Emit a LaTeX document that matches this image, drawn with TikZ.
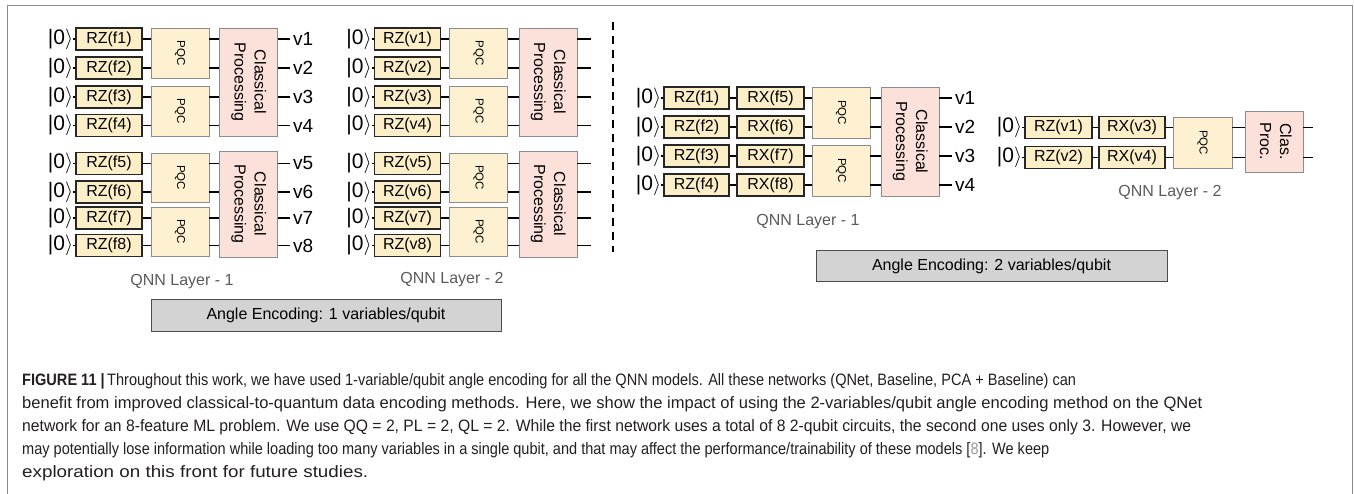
\documentclass[tikz,border=0pt]{standalone}
\usepackage{fontspec}
\setmainfont{Liberation Sans}
\usepackage{graphicx}
\definecolor{gatefill}{HTML}{FCEFC8}
\definecolor{pqcfill}{HTML}{FDF1D2}
\definecolor{clsfill}{HTML}{FBE1D9}
\definecolor{encfill}{HTML}{D3D3D3}
\definecolor{boxline}{HTML}{8C8C8C}
\definecolor{layergray}{HTML}{5A5A5A}
\definecolor{captext}{HTML}{231F20}
\definecolor{framegray}{HTML}{8A8A8A}
\tikzset{
  wire/.style={line width=1.6pt, black},
  gate/.style={draw=black!85, line width=1.3pt, fill=gatefill, minimum width=66, minimum height=22, inner sep=0pt, font=\fontsize{16}{16}\selectfont},
  pqcbox/.style={draw=boxline, line width=0.9pt, fill=pqcfill, minimum width=58, inner sep=0pt, font=\fontsize{11.5}{12}\selectfont},
  clsbox/.style={draw=boxline, line width=0.9pt, fill=clsfill, minimum width=58, inner sep=0pt, font=\fontsize{16}{20}\selectfont, align=center},
  ket/.style={anchor=east, inner sep=0pt, font=\fontsize{21}{21}\selectfont},
  vlab/.style={anchor=west, inner sep=0pt, font=\fontsize{19}{19}\selectfont},
  layerlab/.style={text=layergray, inner sep=0pt, font=\fontsize{16}{16}\selectfont},
  encbox/.style={draw=black!70, line width=1pt, fill=encfill, inner sep=0pt, font=\fontsize{16}{16}\selectfont},
  captionline/.style={anchor=base west, inner sep=0pt, text=captext, font=\fontsize{16.5}{18}\selectfont},
}
\begin{document}
\begin{tikzpicture}[x=1pt,y=-1pt]
\useasboundingbox (0,0) rectangle (1354,494);
% frame
\coordinate (f1) at (7,500); \coordinate (f2) at (7,6);
\coordinate (f3) at (1352,6); \coordinate (f4) at (1352,500);
\draw[framegray, line width=1pt] (f1) -- (f2) -- (f3) -- (f4);

% ================= Left panel, layer 1 =================
\node[pqcbox, minimum height=50] (Ap1) at (180,53) {\rotatebox{-90}{PQC}};
\node[pqcbox, minimum height=50] (Ap2) at (180,111) {\rotatebox{-90}{PQC}};
\node[pqcbox, minimum height=49] (Ap3) at (180,177.5) {\rotatebox{-90}{PQC}};
\node[pqcbox, minimum height=49] (Ap4) at (180,231.5) {\rotatebox{-90}{PQC}};
\node[clsbox, minimum height=108] (Ac1) at (248.5,82) {\rotatebox{-90}{\begin{tabular}{@{}c@{}}Classical\\Processing\end{tabular}}};
\node[clsbox, minimum height=106] (Ac2) at (248.5,204) {\rotatebox{-90}{\begin{tabular}{@{}c@{}}Classical\\Processing\end{tabular}}};
\foreach \i/\y/\j/\k in {1/39/1/1,2/68/1/1,3/97/2/1,4/125.5/2/1,5/163.5/3/2,6/192/3/2,7/218/4/2,8/245.5/4/2}{
  \node[gate] (Ar\i) at (109,\y) {RZ(f\i)};
  \node[ket] (Ak\i) at ([xshift=-2pt]Ar\i.west) {|0$\rangle$};
  \draw[wire] (Ak\i.east) -- (Ar\i.west);
  \draw[wire] (Ar\i.east) -- (Ar\i -| Ap\j.west);
  \draw[wire] (Ar\i -| Ap\j.east) -- (Ar\i -| Ac\k.west);
  \coordinate (Ao\i) at (290,\y);
  \draw[wire] (Ar\i -| Ac\k.east) -- (Ao\i);
  \node[vlab] (Av\i) at ([xshift=3pt]Ao\i) {v\i};
}
\node[layerlab] (AL) at (182,282) {QNN Layer - 1};

% ================= Left panel, layer 2 =================
\node[pqcbox, minimum height=50] (Bp1) at (478.5,53) {\rotatebox{-90}{PQC}};
\node[pqcbox, minimum height=50] (Bp2) at (478.5,111) {\rotatebox{-90}{PQC}};
\node[pqcbox, minimum height=49] (Bp3) at (478.5,177.5) {\rotatebox{-90}{PQC}};
\node[pqcbox, minimum height=49] (Bp4) at (478.5,231.5) {\rotatebox{-90}{PQC}};
\node[clsbox, minimum height=108] (Bc1) at (548,82) {\rotatebox{-90}{\begin{tabular}{@{}c@{}}Classical\\Processing\end{tabular}}};
\node[clsbox, minimum height=106] (Bc2) at (548,204) {\rotatebox{-90}{\begin{tabular}{@{}c@{}}Classical\\Processing\end{tabular}}};
\foreach \i/\y/\j/\k in {1/39/1/1,2/68/1/1,3/97/2/1,4/125.5/2/1,5/163.5/3/2,6/192/3/2,7/218/4/2,8/245.5/4/2}{
  \node[gate] (Br\i) at (407.5,\y) {RZ(v\i)};
  \node[ket] (Bk\i) at ([xshift=-2pt]Br\i.west) {|0$\rangle$};
  \draw[wire] (Bk\i.east) -- (Br\i.west);
  \draw[wire] (Br\i.east) -- (Br\i -| Bp\j.west);
  \draw[wire] (Br\i -| Bp\j.east) -- (Br\i -| Bc\k.west);
  \coordinate (Bo\i) at (591,\y);
  \draw[wire] (Br\i -| Bc\k.east) -- (Bo\i);
}
\node[layerlab] (BL) at (452,280) {QNN Layer - 2};
\node[encbox, minimum width=350, minimum height=32] (E1) at (326,315) {Angle Encoding: 1 variables/qubit};

% dashed separator
\coordinate (d1) at (613,22); \coordinate (d2) at (613,252);
\draw[line width=1.8pt, dash pattern=on 8pt off 6pt] (d1) -- (d2);

% ================= Right panel, layer 1 =================
\node[pqcbox, minimum height=51] (Cp1) at (841,112.5) {\rotatebox{-90}{PQC}};
\node[pqcbox, minimum height=51] (Cp2) at (841,170.5) {\rotatebox{-90}{PQC}};
\node[clsbox, minimum height=109] (Cc1) at (910,141.5) {\rotatebox{-90}{\begin{tabular}{@{}c@{}}Classical\\Processing\end{tabular}}};
\foreach \i/\y/\j/\m in {1/98/1/5,2/127/1/6,3/156/2/7,4/185/2/8}{
  \node[gate, minimum width=65] (Cr\i) at (696.5,\y) {RZ(f\i)};
  \node[gate, minimum width=67] (Cx\i) at (770.5,\y) {RX(f\m)};
  \node[ket] (Ck\i) at ([xshift=-2pt]Cr\i.west) {|0$\rangle$};
  \draw[wire] (Ck\i.east) -- (Cr\i.west);
  \draw[wire] (Cr\i.east) -- (Cx\i.west);
  \draw[wire] (Cx\i.east) -- (Cx\i -| Cp\j.west);
  \draw[wire] (Cx\i -| Cp\j.east) -- (Cx\i -| Cc1.west);
  \coordinate (Co\i) at (952,\y);
  \draw[wire] (Cx\i -| Cc1.east) -- (Co\i);
  \node[vlab] (Cv\i) at ([xshift=3pt]Co\i) {v\i};
}
\node[layerlab] (CL) at (808,222) {QNN Layer - 1};
\node[encbox, minimum width=351, minimum height=31] (E2) at (991.5,266.5) {Angle Encoding: 2 variables/qubit};

% ================= Right panel, layer 2 =================
\node[pqcbox, minimum width=59, minimum height=51] (Dp1) at (1202.5,142.5) {\rotatebox{-90}{PQC}};
\node[clsbox, minimum height=61] (Dc1) at (1274,141.5) {\rotatebox{-90}{\begin{tabular}{@{}c@{}}Clas.\\Proc.\end{tabular}}};
\foreach \i/\y/\m in {1/127.5/3,2/157.5/4}{
  \node[gate, minimum width=67] (Dr\i) at (1058.5,\y) {RZ(v\i)};
  \node[gate, minimum width=66] (Dx\i) at (1132,\y) {RX(v\m)};
  \node[ket] (Dk\i) at ([xshift=-2pt]Dr\i.west) {|0$\rangle$};
  \draw[wire] (Dk\i.east) -- (Dr\i.west);
  \draw[wire] (Dr\i.east) -- (Dx\i.west);
  \draw[wire] (Dx\i.east) -- (Dx\i -| Dp1.west);
  \draw[wire] (Dx\i -| Dp1.east) -- (Dx\i -| Dc1.west);
  \coordinate (Do\i) at (1313,\y);
  \draw[wire] (Dx\i -| Dc1.east) -- (Do\i);
}
\node[layerlab] (DL) at (1170,193) {QNN Layer - 2};

% ================= Caption =================
\node[captionline] (cap1) at (22,385) {\resizebox{1054pt}{\height}{\textbf{FIGURE 11 |}\,Throughout this work, we have used 1-variable/qubit angle encoding for all the QNN models. All these networks (QNet, Baseline, PCA + Baseline) can}};
\node[captionline] (cap2) at (22,408) {\resizebox{1180pt}{\height}{benefit from improved classical-to-quantum data encoding methods. Here, we show the impact of using the 2-variables/qubit angle encoding method on the QNet}};
\node[captionline] (cap3) at (22,431) {\resizebox{1169pt}{\height}{network for an 8-feature ML problem. We use QQ = 2, PL = 2, QL = 2. While the first network uses a total of 8 2-qubit circuits, the second one uses only 3. However, we}};
\node[captionline] (cap4) at (22,454) {\resizebox{1027pt}{\height}{may potentially lose information while loading too many variables in a single qubit, and that may affect the performance/trainability of these models [{\color{gray!80}8}]. We keep}};
\node[captionline] (cap5) at (22,477) {\resizebox{346pt}{\height}{exploration on this front for future studies.}};
\end{tikzpicture}
\end{document}
